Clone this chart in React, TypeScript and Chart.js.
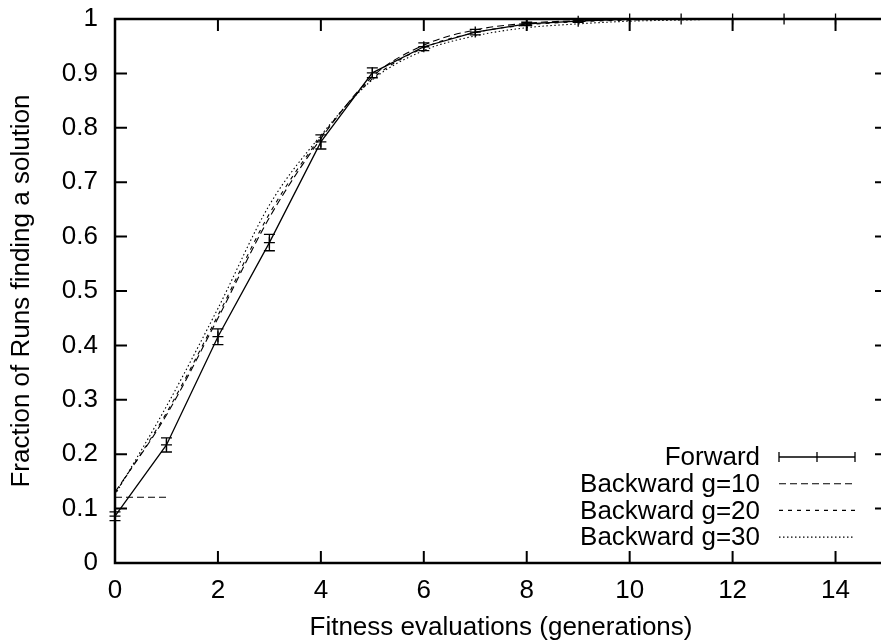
import React, { useEffect, useRef } from 'react';
import { Chart, registerables } from 'chart.js';

Chart.register(...registerables);

// ---- data ----
const generations = [0, 1, 2, 3, 4, 5, 6, 7, 8, 9, 10, 11, 12, 13, 14, 15];
const forward = [0.086, 0.217, 0.416, 0.589, 0.774, 0.901, 0.949, 0.976, 0.991, 0.996, 1, 1, 1, 1, 1, 1];
const forwardErr = [0.008, 0.013, 0.0145, 0.015, 0.013, 0.009, 0.007, 0.005, 0.003, 0.002, 0, 0, 0, 0, 0, 0];
const backwardG10 = [0.13, 0.272, 0.45, 0.635, 0.78, 0.894, 0.952, 0.98, 0.992, 0.997, 0.999, 1, 1, 1, 1, 1];
const backwardG20 = [0.128, 0.276, 0.455, 0.642, 0.783, 0.89, 0.947, 0.975, 0.989, 0.995, 0.998, 1, 1, 1, 1, 1];
const backwardG30 = [0.125, 0.288, 0.468, 0.658, 0.786, 0.888, 0.942, 0.969, 0.984, 0.991, 0.996, 0.998, 1, 1, 1, 1];
const g10StartX = [0, 1];
const g10StartY = [0.121, 0.121];
const yTickLabels = ['0', '0.1', '0.2', '0.3', '0.4', '0.5', '0.6', '0.7', '0.8', '0.9', '1'];
const legendLabels = ['Forward', 'Backward g=10', 'Backward g=20', 'Backward g=30'];
const xTitle = 'Fitness evaluations (generations)';
const yTitle = 'Fraction of Runs finding a solution';

const FONT = '"Liberation Sans", Arial, Helvetica, sans-serif';
const FS = 26;
const dashes = [[], [7, 4], [4, 5], [1.5, 2.5]];

const toXY = (xs: number[], ys: number[]) => xs.map((x, i) => ({ x, y: ys[i] }));

const gnuplotPlugin = {
  id: 'gnuplotExtras',
  beforeDatasetsDraw(chart: any) {
    const { ctx, chartArea: a, scales } = chart;
    const xs = scales.x;
    const ys = scales.y;
    const TL = 12;
    ctx.save();
    ctx.strokeStyle = '#000';
    ctx.lineWidth = 2;
    ctx.beginPath();
    xs.ticks.forEach((t: any) => {
      const px = xs.getPixelForValue(t.value);
      ctx.moveTo(px, a.bottom);
      ctx.lineTo(px, a.bottom - TL);
      ctx.moveTo(px, a.top);
      ctx.lineTo(px, a.top + TL);
    });
    ys.ticks.forEach((t: any) => {
      const py = ys.getPixelForValue(t.value);
      ctx.moveTo(a.left, py);
      ctx.lineTo(a.left + TL, py);
      ctx.moveTo(a.right, py);
      ctx.lineTo(a.right - TL, py);
    });
    ctx.stroke();
    ctx.lineWidth = 2.5;
    ctx.strokeRect(a.left, a.top, a.right - a.left, a.bottom - a.top);
    ctx.restore();
  },
  afterDatasetsDraw(chart: any) {
    const { ctx, chartArea: a, scales } = chart;
    const xs = scales.x;
    const ys = scales.y;
    ctx.save();
    ctx.strokeStyle = '#000';
    ctx.lineWidth = 1.3;
    const cap = 5.5;
    ctx.beginPath();
    generations.forEach((g, i) => {
      const e = forwardErr[i];
      if (e <= 0) return;
      const px = xs.getPixelForValue(g);
      const lo = ys.getPixelForValue(forward[i] - e);
      const hi = ys.getPixelForValue(forward[i] + e);
      ctx.moveTo(px, lo);
      ctx.lineTo(px, hi);
      ctx.moveTo(px - cap, lo);
      ctx.lineTo(px + cap, lo);
      ctx.moveTo(px - cap, hi);
      ctx.lineTo(px + cap, hi);
    });
    ctx.stroke();

    // legend
    const textRight = a.right - 127;
    const s0 = a.right - 108;
    const s1 = a.right - 32;
    const y0 = a.bottom - 106;
    const step = 26.7;
    ctx.font = `${FS}px ${FONT}`;
    ctx.fillStyle = '#000';
    ctx.textAlign = 'right';
    ctx.textBaseline = 'middle';
    legendLabels.forEach((lab, i) => {
      const y = y0 + i * step;
      ctx.fillText(lab, textRight, y + 1);
      ctx.setLineDash(dashes[i]);
      ctx.lineWidth = i === 0 ? 1.3 : 1.1;
      ctx.beginPath();
      ctx.moveTo(s0, y);
      ctx.lineTo(s1, y);
      ctx.stroke();
      ctx.setLineDash([]);
      if (i === 0) {
        const mid = (s0 + s1) / 2;
        ctx.beginPath();
        ctx.moveTo(s0, y - 5);
        ctx.lineTo(s0, y + 5);
        ctx.moveTo(s1, y - 5);
        ctx.lineTo(s1, y + 5);
        ctx.moveTo(mid, y - 5);
        ctx.lineTo(mid, y + 5);
        ctx.stroke();
      }
    });
    ctx.restore();
  },
};

export default function App() {
  const ref = useRef<HTMLCanvasElement | null>(null);
  useEffect(() => {
    if (!ref.current) return;
    const lineBase = {
      borderColor: '#000',
      backgroundColor: '#000',
      pointRadius: 0,
      borderWidth: 1.1,
      fill: false,
      cubicInterpolationMode: 'monotone' as const,
    };
    const chart = new Chart(ref.current, {
      type: 'line',
      data: {
        datasets: [
          {
            ...lineBase,
            label: legendLabels[0],
            data: toXY(generations, forward),
            borderWidth: 1.3,
            cubicInterpolationMode: 'default',
            tension: 0,
            pointStyle: 'cross',
            pointRadius: 5.5,
            pointBorderWidth: 1.3,
            pointBorderColor: '#000',
            clip: false,
          },
          { ...lineBase, label: legendLabels[1], data: toXY(generations, backwardG10), borderDash: dashes[1] },
          { ...lineBase, label: legendLabels[1] + ' start', data: toXY(g10StartX, g10StartY), borderDash: dashes[1], cubicInterpolationMode: 'default', tension: 0 },
          { ...lineBase, label: legendLabels[2], data: toXY(generations, backwardG20), borderDash: dashes[2] },
          { ...lineBase, label: legendLabels[3], data: toXY(generations, backwardG30), borderDash: dashes[3] },
        ],
      },
      options: {
        animation: false,
        responsive: false,
        devicePixelRatio: 1,
        layout: { padding: { left: 0, right: 13, top: 19, bottom: 0 } },
        plugins: { legend: { display: false }, tooltip: { enabled: false } },
        scales: {
          x: {
            type: 'linear',
            min: 0,
            max: 15,
            grid: { display: false, drawTicks: false },
            border: { display: false },
            ticks: {
              stepSize: 2,
              includeBounds: false,
              autoSkip: false,
              maxRotation: 0,
              color: '#000',
              padding: 12,
              font: { family: FONT, size: FS, lineHeight: 1.2 },
            },
            title: {
              display: true,
              text: xTitle,
              color: '#000',
              font: { family: FONT, size: FS, lineHeight: 1.2 },
              padding: { top: 0, bottom: 0 },
            },
            afterFit: (s: any) => { s.height = 80; },
          },
          y: {
            type: 'linear',
            min: 0,
            max: 1,
            grid: { display: false, drawTicks: false },
            border: { display: false },
            ticks: {
              stepSize: 0.1,
              autoSkip: false,
              color: '#000',
              padding: 17,
              font: { family: FONT, size: FS, lineHeight: 0.5 },
              callback: (_v: any, i: number) => yTickLabels[i],
            },
            title: {
              display: true,
              text: yTitle,
              color: '#000',
              font: { family: FONT, size: FS, lineHeight: 1.2 },
              padding: { top: 6, bottom: 0 },
            },
            afterFit: (s: any) => { s.width = 115; s.paddingTop = 0; s.paddingBottom = 0; },
          },
        },
      },
      plugins: [gnuplotPlugin],
    });
    return () => chart.destroy();
  }, []);
  return (
    <div style={{ position: 'fixed', left: 0, top: 0, width: 881, height: 643, overflow: 'hidden', background: '#fff' }}>
      <canvas ref={ref} width={900} height={643} style={{ display: 'block' }} />
    </div>
  );
}
